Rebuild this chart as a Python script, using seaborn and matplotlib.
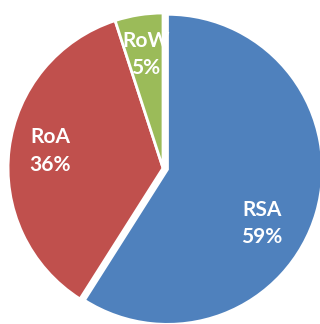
import matplotlib
matplotlib.use("Agg")
import matplotlib.pyplot as plt
import seaborn as sns

sns.set_theme(style="white")
plt.rcParams["font.family"] = ["Lato", "DejaVu Sans"]

regions = ["RSA", "RoA", "RoW"]
shares = [59, 36, 5]
colors = ["#4F81BD", "#C0504D", "#9BBB59"]
explode = [0.03, 0.0, 0.0]
# label anchor points inside each wedge (data units, radius = 1)
label_xy = [(0.64, -0.36), (-0.73, 0.11), (-0.11, 0.73)]

fig = plt.figure(figsize=(3.2, 3.24), dpi=100)
ax = fig.add_axes([0, 0, 1, 1])
ax.pie(shares, colors=colors, startangle=90, counterclock=False,
       explode=explode, radius=1.0,
       wedgeprops=dict(edgecolor="white", linewidth=2.0))

for name, val, (x, y) in zip(regions, shares, label_xy):
    ax.text(x, y, f"{name}\n{val}%", ha="center", va="center",
            color="white", fontsize=15, fontweight="bold", linespacing=1.45)

ax.set_xlim(-1.052, 1.013)
ax.set_ylim(-1.006, 1.084)
ax.set_aspect("auto")
ax.axis("off")
fig.savefig("out.png", dpi=100, facecolor="white")
